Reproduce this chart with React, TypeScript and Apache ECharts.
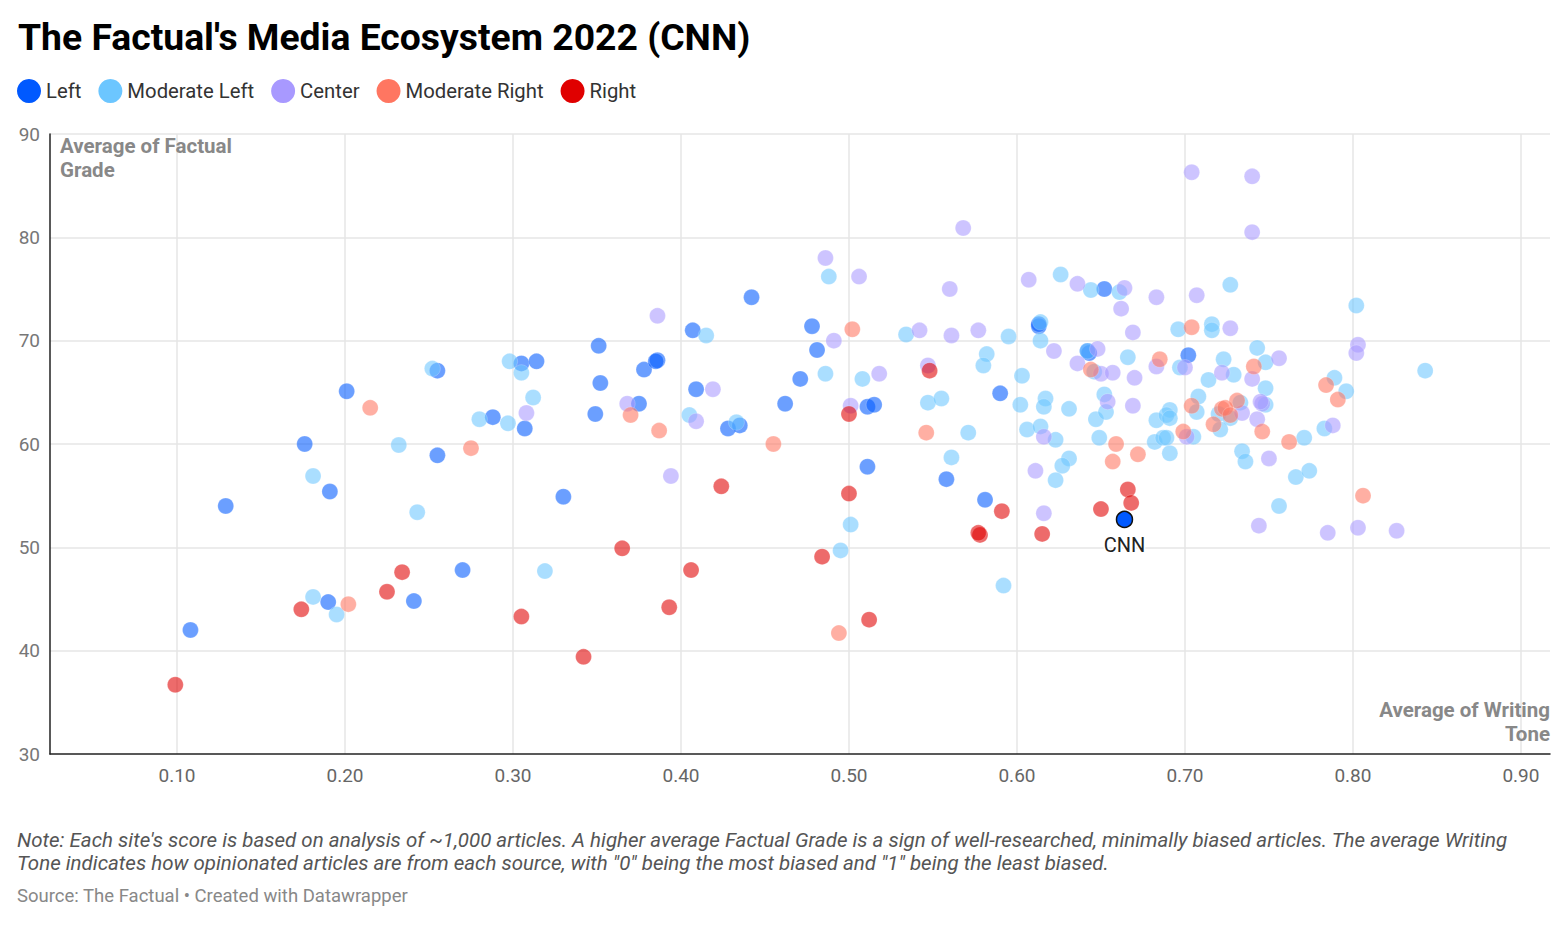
import React, { useEffect, useRef } from "react";
import * as echarts from "echarts";

const TITLE = "The Factual's Media Ecosystem 2022 (CNN)";
const NOTE_LINE1 = "Note: Each site's score is based on analysis of ~1,000 articles. A higher average Factual Grade is a sign of well-researched, minimally biased articles. The average Writing";
const NOTE_LINE2 = "Tone indicates how opinionated articles are from each source, with \"0\" being the most biased and \"1\" being the least biased.";
const SOURCE = "Source: The Factual • Created with Datawrapper";
const Y_TITLE = ["Average of Factual", "Grade"];
const X_TITLE = ["Average of Writing", "Tone"];

const CATEGORIES = ["Left", "Moderate Left", "Center", "Moderate Right", "Right"];
const COLORS = ["#0059ff", "#6cc6ff", "#a899ff", "#ff7661", "#e00000"];

// [writing tone, factual grade]
const leftData: number[][] = [
  [0.108, 42.0], [0.129, 54.0], [0.176, 60.0], [0.201, 65.1], [0.191, 55.4], [0.190, 44.7],
  [0.241, 44.8], [0.255, 67.1], [0.255, 58.9], [0.270, 47.8], [0.288, 62.6], [0.305, 67.8],
  [0.314, 68.0], [0.307, 61.5], [0.330, 54.9], [0.351, 69.5], [0.352, 65.9], [0.349, 62.9],
  [0.378, 67.2], [0.386, 68.1], [0.385, 68.0], [0.375, 63.9], [0.407, 71.0], [0.409, 65.3],
  [0.428, 61.5], [0.435, 61.8], [0.442, 74.2], [0.462, 63.9], [0.471, 66.3], [0.478, 71.4],
  [0.481, 69.1], [0.511, 63.6], [0.515, 63.8], [0.511, 57.8], [0.558, 56.6], [0.581, 54.6],
  [0.590, 64.9], [0.613, 71.4], [0.613, 71.6], [0.643, 68.8], [0.642, 69.0], [0.652, 75.0],
  [0.702, 68.6],
];

const moderateLeftData: number[][] = [
  [0.252, 67.3], [0.232, 59.9], [0.181, 56.9], [0.243, 53.4], [0.181, 45.2], [0.195, 43.5],
  [0.488, 76.2], [0.415, 70.5], [0.534, 70.6], [0.298, 68.0], [0.305, 66.9], [0.312, 64.5],
  [0.486, 66.8], [0.508, 66.3], [0.280, 62.4], [0.297, 62.0], [0.405, 62.8], [0.433, 62.1],
  [0.501, 52.2], [0.495, 49.7], [0.319, 47.7], [0.626, 76.4], [0.644, 74.9], [0.661, 74.7],
  [0.595, 70.4], [0.614, 71.8], [0.614, 70.0], [0.582, 68.7], [0.580, 67.6], [0.603, 66.6],
  [0.547, 64.0], [0.555, 64.4], [0.602, 63.8], [0.617, 64.4], [0.616, 63.6], [0.631, 63.4],
  [0.642, 69.0], [0.646, 67.0], [0.666, 68.4], [0.652, 64.8], [0.691, 63.3], [0.647, 62.4],
  [0.653, 63.1], [0.683, 62.3], [0.689, 62.8], [0.682, 60.2], [0.687, 60.6], [0.691, 59.1],
  [0.571, 61.1], [0.606, 61.4], [0.614, 61.7], [0.623, 60.4], [0.649, 60.6], [0.561, 58.7],
  [0.631, 58.6], [0.627, 57.9], [0.623, 56.5], [0.592, 46.3], [0.727, 75.4], [0.802, 73.4],
  [0.696, 71.1], [0.716, 71.6], [0.716, 71.0], [0.743, 69.3], [0.748, 67.9], [0.723, 68.2],
  [0.697, 67.4], [0.729, 66.7], [0.714, 66.2], [0.843, 67.1], [0.789, 66.4], [0.796, 65.1],
  [0.783, 61.5], [0.748, 65.4], [0.708, 64.6], [0.707, 63.1], [0.733, 64.0], [0.720, 62.9],
  [0.727, 62.5], [0.721, 61.4], [0.691, 62.5], [0.689, 60.6], [0.705, 60.7], [0.734, 59.3],
  [0.736, 58.3], [0.771, 60.6], [0.766, 56.8], [0.774, 57.4], [0.756, 54.0], [0.748, 63.8],
];

const centerData: number[][] = [
  [0.386, 72.4], [0.308, 63.0], [0.368, 63.9], [0.419, 65.3], [0.409, 62.2], [0.394, 56.9],
  [0.486, 78.0], [0.506, 76.2], [0.491, 70.0], [0.518, 66.8], [0.501, 63.7], [0.568, 80.9],
  [0.560, 75.0], [0.607, 75.9], [0.636, 75.5], [0.664, 75.1], [0.683, 74.2], [0.662, 73.1],
  [0.669, 70.8], [0.542, 71.0], [0.561, 70.5], [0.577, 71.0], [0.622, 69.0], [0.547, 67.6],
  [0.648, 69.2], [0.636, 67.8], [0.650, 66.8], [0.657, 66.9], [0.670, 66.4], [0.683, 67.5],
  [0.654, 64.1], [0.669, 63.7], [0.616, 60.7], [0.611, 57.4], [0.616, 53.3], [0.704, 86.3],
  [0.740, 85.9], [0.740, 80.5], [0.707, 74.4], [0.727, 71.2], [0.803, 69.6], [0.802, 68.8],
  [0.756, 68.3], [0.700, 67.4], [0.722, 66.9], [0.740, 66.3], [0.788, 61.8], [0.746, 63.9],
  [0.745, 64.1], [0.743, 62.4], [0.734, 63.0], [0.701, 60.7], [0.750, 58.6], [0.744, 52.1],
  [0.785, 51.4], [0.803, 51.9], [0.826, 51.6],
];

const moderateRightData: number[][] = [
  [0.215, 63.5], [0.202, 44.5], [0.275, 59.6], [0.370, 62.8], [0.387, 61.3], [0.455, 60.0],
  [0.502, 71.1], [0.494, 41.7], [0.546, 61.1], [0.644, 67.2], [0.685, 68.2], [0.659, 60.0],
  [0.672, 59.0], [0.657, 58.3], [0.704, 71.3], [0.741, 67.5], [0.784, 65.7], [0.791, 64.3],
  [0.704, 63.7], [0.731, 64.2], [0.722, 63.4], [0.724, 63.5], [0.727, 62.8], [0.717, 61.9],
  [0.699, 61.2], [0.746, 61.2], [0.762, 60.2], [0.806, 55.0],
];

const rightData: number[][] = [
  [0.099, 36.7], [0.174, 44.0], [0.225, 45.7], [0.234, 47.6], [0.305, 43.3], [0.342, 39.4],
  [0.365, 49.9], [0.393, 44.2], [0.406, 47.8], [0.424, 55.9], [0.484, 49.1], [0.500, 62.9],
  [0.500, 55.2], [0.512, 43.0], [0.548, 67.1], [0.591, 53.5], [0.578, 51.2], [0.577, 51.4],
  [0.615, 51.3], [0.650, 53.7], [0.666, 55.6], [0.668, 54.3],
];

const cnnData: number[][] = [[0.664, 52.7]];
const CNN_LABEL = "CNN";

const X_MIN = 0.0244;
const X_MAX = 0.9173;
const Y_MIN = 30;
const Y_MAX = 90;

const FONT = "Roboto, 'Noto Sans', sans-serif";

export default function App() {
  const ref = useRef<HTMLDivElement>(null);
  useEffect(() => {
    if (!ref.current) return;
    const chart = echarts.init(ref.current, undefined, { renderer: "svg" });
    const seriesData = [leftData, moderateLeftData, centerData, moderateRightData, rightData];
    const series: any[] = CATEGORIES.map((name, i) => ({
      name,
      type: "scatter",
      data: seriesData[i],
      symbolSize: 16,
      itemStyle: { color: COLORS[i], opacity: 0.58, borderColor: "rgba(255,255,255,0.6)", borderWidth: 0.6 },
      emphasis: { disabled: true },
    }));
    series.push({
      name: CNN_LABEL,
      type: "scatter",
      data: cnnData,
      symbolSize: 16,
      z: 5,
      itemStyle: { color: COLORS[0], opacity: 1, borderColor: "#111", borderWidth: 1.5 },
      label: {
        show: true,
        position: "bottom",
        distance: 7,
        formatter: CNN_LABEL,
        fontFamily: FONT,
        fontSize: 20,
        color: "#222",
        textBorderColor: "#fff",
        textBorderWidth: 3,
      },
      emphasis: { disabled: true },
    });
    const axisTitleFont = `bold 20.5px ${FONT}`;
    chart.setOption({
      animation: false,
      textStyle: { fontFamily: FONT },
      title: {
        text: TITLE,
        left: 13,
        top: 13,
        textStyle: { fontFamily: FONT, fontSize: 37.3, fontWeight: "bold", color: "#000" },
      },
      legend: {
        data: CATEGORIES,
        left: 12,
        top: 74,
        icon: "circle",
        itemWidth: 24,
        itemHeight: 24,
        itemGap: 17,
        selectedMode: false,
        itemStyle: { opacity: 1, borderWidth: 0 },
        textStyle: { fontFamily: FONT, fontSize: 20.3, color: "#333" },
      },
      grid: { left: 50, right: 18, top: 134, bottom: 181, containLabel: false },
      xAxis: {
        type: "value",
        min: X_MIN,
        max: X_MAX,
        splitNumber: 9,
        axisLine: { show: true, onZero: false, lineStyle: { color: "#222", width: 1.5 } },
        axisTick: { show: false },
        axisLabel: {
          showMinLabel: false,
          showMaxLabel: false,
          margin: 12,
          fontFamily: FONT,
          fontSize: 19,
          color: "#666",
          formatter: (v: number) => v.toFixed(2),
        },
        splitLine: { show: true, showMinLine: false, showMaxLine: false, lineStyle: { color: "#e6e6e6", width: 1.5 } },
      },
      yAxis: {
        type: "value",
        min: Y_MIN,
        max: Y_MAX,
        interval: 10,
        axisLine: { show: true, onZero: false, lineStyle: { color: "#222", width: 1.5 } },
        axisTick: { show: false },
        axisLabel: { margin: 10, fontFamily: FONT, fontSize: 19, color: "#777" },
        splitLine: { show: true, showMinLine: false, lineStyle: { color: "#e6e6e6", width: 1.5 } },
      },
      graphic: [
        {
          type: "text",
          left: 60,
          top: 135,
          z: 10,
          style: { text: Y_TITLE[0], font: axisTitleFont, fill: "#888" },
        },
        {
          type: "text",
          left: 60,
          top: 159,
          z: 10,
          style: { text: Y_TITLE[1], font: axisTitleFont, fill: "#888" },
        },
        {
          type: "text",
          right: 18,
          top: 699,
          z: 10,
          style: { text: X_TITLE[0], font: axisTitleFont, fill: "#888" },
        },
        {
          type: "text",
          right: 18,
          top: 723,
          z: 10,
          style: { text: X_TITLE[1], font: axisTitleFont, fill: "#888" },
        },
        {
          type: "text",
          left: 17,
          top: 828,
          style: {
            text: NOTE_LINE1 + "\n" + NOTE_LINE2,
            font: `italic 20.5px ${FONT}`,
            fill: "#555",
            lineHeight: 23.5,
          },
        },
        {
          type: "text",
          left: 17,
          top: 886,
          style: { text: SOURCE, font: `18.5px ${FONT}`, fill: "#888" },
        },
      ],
      series,
    });
    return () => chart.dispose();
  }, []);
  return (
    <div
      ref={ref}
      style={{ position: "fixed", left: 0, top: 0, width: 1568, height: 935, background: "#fff" }}
    />
  );
}
